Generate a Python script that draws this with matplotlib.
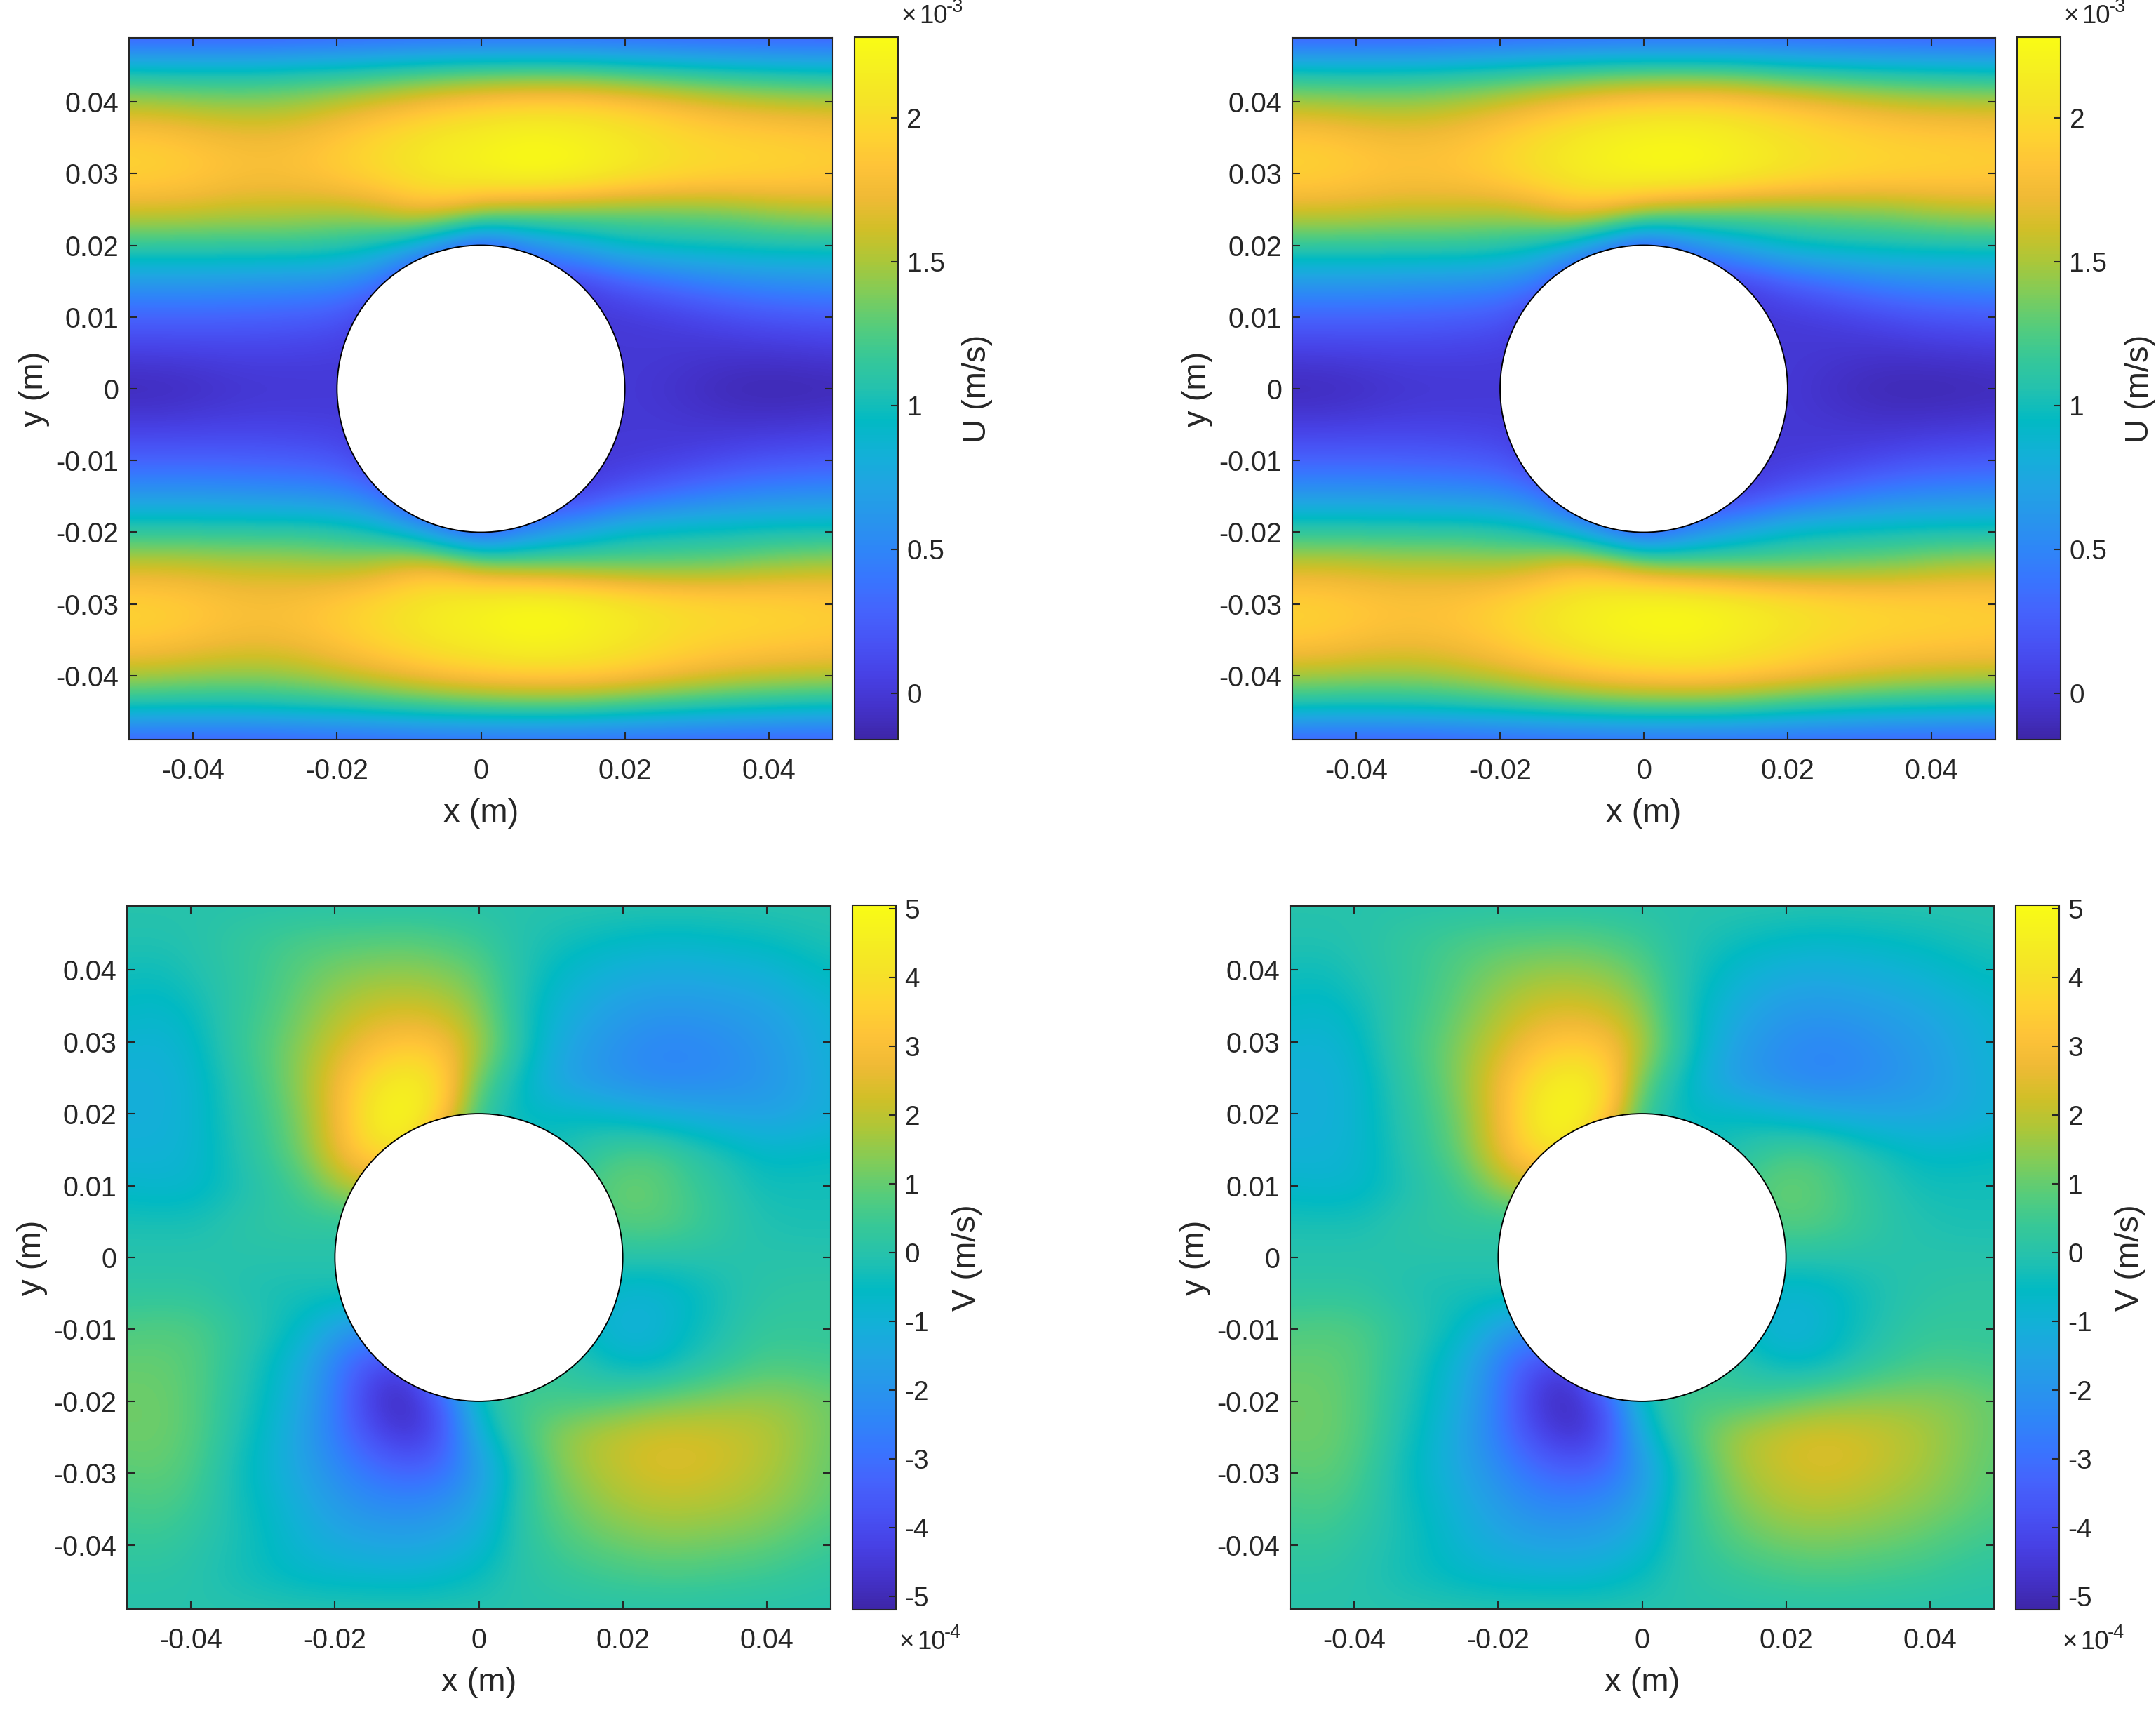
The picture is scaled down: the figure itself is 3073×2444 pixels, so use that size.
import numpy as np
import matplotlib
matplotlib.use("Agg")
import matplotlib.pyplot as plt
from matplotlib.colors import LinearSegmentedColormap
from matplotlib.patches import Circle

plt.rcParams["font.family"] = ["Liberation Sans", "DejaVu Sans"]
plt.rcParams["axes.unicode_minus"] = False

# values, rows go from y=0 up to y=0.049, columns x=-0.049 .. 0.049
# lower half is the mirror of the upper half (U even, V odd)
x_grid = [-.049, -.0441, -.0392, -.0343, -.0294, -.0245, -.0196, -.0147, -.0098, -.0049, 0,
          .0049, .0098, .0147, .0196, .0245, .0294, .0343, .0392, .0441, .049]
y_grid = [0, .0049, .0098, .0147, .0196, .0245, .0294, .0343, .0392, .0441, .049]

U_left = [
    [-.12, -.11, -.08, -.04, -.02, -.01, 0, 0, 0, 0, 0, 0, 0, 0, 0, -.03, -.07, -.12, -.14, -.14, -.13],
    [.03, .03, .04, .05, .05, .04, .03, 0, 0, 0, 0, 0, 0, 0, 0, 0, -.02, -.03, -.03, -.02, 0],
    [.26, .26, .26, .25, .24, .22, .18, 0, 0, 0, 0, 0, 0, 0, 0, .02, .06, .11, .16, .18, .2],
    [.62, .62, .62, .6, .58, .56, .52, .4, 0, 0, 0, 0, 0, .05, .2, .3, .4, .47, .52, .55, .57],
    [1.1, 1.1, 1.1, 1.1, 1.1, 1.1, 1.05, .95, .75, .35, .05, .35, .6, .75, .9, .95, .97, .98, 1, 1, 1],
    [1.6, 1.6, 1.58, 1.55, 1.55, 1.52, 1.5, 1.55, 1.7, 1.7, 1.5, 1.4, 1.35, 1.32, 1.3, 1.3, 1.32, 1.35, 1.42, 1.47, 1.5],
    [1.94, 1.92, 1.88, 1.82, 1.8, 1.83, 1.9, 1.98, 2.07, 2.15, 2.2, 2.26, 2.26, 2.2, 2.12, 2.05, 2.0, 1.97, 1.95, 1.93, 1.9],
    [1.92, 1.9, 1.84, 1.79, 1.78, 1.82, 1.9, 2.0, 2.08, 2.16, 2.2, 2.26, 2.26, 2.2, 2.13, 2.06, 2.0, 1.97, 1.95, 1.93, 1.9],
    [1.58, 1.56, 1.52, 1.5, 1.5, 1.55, 1.64, 1.73, 1.82, 1.9, 1.96, 2.0, 2.01, 2.0, 1.95, 1.88, 1.8, 1.73, 1.68, 1.65, 1.63],
    [1.05, 1.03, 1.03, 1.03, 1.05, 1.08, 1.1, 1.15, 1.2, 1.25, 1.28, 1.3, 1.3, 1.28, 1.22, 1.17, 1.12, 1.08, 1.05, 1.02, 1.0],
    [.2, .2, .2, .2, .2, .22, .23, .24, .25, .26, .26, .26, .26, .25, .24, .23, .22, .21, .2, .2, .2],
]

U_right = [
    [-.12, -.11, -.08, -.04, -.02, -.01, 0, 0, 0, 0, 0, 0, 0, 0, 0, -.05, -.1, -.13, -.14, -.13, -.12],
    [.03, .03, .04, .05, .05, .04, .03, 0, 0, 0, 0, 0, 0, 0, 0, -.01, -.03, -.04, -.03, -.02, 0],
    [.26, .26, .26, .25, .24, .22, .18, 0, 0, 0, 0, 0, 0, 0, 0, .02, .06, .11, .16, .18, .2],
    [.62, .62, .62, .6, .58, .56, .52, .4, 0, 0, 0, 0, 0, .05, .2, .3, .4, .48, .52, .55, .57],
    [1.1, 1.1, 1.1, 1.1, 1.1, 1.1, 1.05, .95, .75, .35, .05, .35, .6, .77, .9, .96, .98, .99, 1, 1, 1],
    [1.6, 1.6, 1.58, 1.55, 1.55, 1.53, 1.52, 1.6, 1.75, 1.7, 1.5, 1.38, 1.33, 1.3, 1.3, 1.32, 1.35, 1.38, 1.45, 1.5, 1.52],
    [1.94, 1.92, 1.88, 1.84, 1.84, 1.87, 1.95, 2.04, 2.13, 2.2, 2.25, 2.26, 2.22, 2.15, 2.08, 2.02, 1.98, 1.95, 1.93, 1.92, 1.9],
    [1.92, 1.9, 1.84, 1.8, 1.81, 1.86, 1.95, 2.05, 2.14, 2.21, 2.25, 2.26, 2.22, 2.15, 2.08, 2.02, 1.98, 1.95, 1.93, 1.92, 1.9],
    [1.58, 1.56, 1.53, 1.52, 1.54, 1.6, 1.68, 1.78, 1.87, 1.95, 1.99, 2.02, 2.01, 1.96, 1.9, 1.83, 1.76, 1.7, 1.66, 1.64, 1.63],
    [1.05, 1.03, 1.03, 1.04, 1.06, 1.09, 1.13, 1.18, 1.23, 1.27, 1.3, 1.3, 1.29, 1.25, 1.18, 1.13, 1.09, 1.06, 1.04, 1.02, 1.0],
    [.2, .2, .2, .2, .2, .22, .23, .24, .25, .26, .26, .26, .26, .25, .24, .23, .22, .21, .2, .2, .2],
]

V_left = [
    [0] * 21,
    [-.2, -.2, -.2, .05, .2, .25, .2, .1, 0, 0, 0, 0, 0, .5, .85, .9, .6, .2, -.1, -.2, -.2],
    [-.7, -.8, -.7, -.3, .1, .6, 1.6, 2.2, .5, 0, 0, 0, 0, .6, 1.1, 1.0, .5, .1, -.3, -.3, -.3],
    [-1.0, -1.0, -.8, -.2, .4, 1.2, 2.7, 3.9, 4.2, 1.0, 0, -.2, -.3, .1, .6, .7, .2, -.2, -.6, -.6, -.5],
    [-1.1, -1.1, -.8, -.1, .5, 1.4, 2.8, 4.6, 5.0, 3.5, .3, -.5, -.5, -.5, -.7, -1.0, -1.2, -1.4, -1.5, -1.4, -1.1],
    [-1.1, -1.1, -.8, 0, .7, 1.6, 2.8, 4.0, 4.7, 3.8, 1.0, -.3, -1.3, -1.8, -2.1, -2.3, -2.3, -2.2, -2.0, -1.6, -1.1],
    [-.9, -1.0, -.6, .2, .8, 1.5, 2.3, 3.0, 3.4, 3.1, 1.8, .3, -1.0, -1.7, -2.1, -2.4, -2.4, -2.2, -1.9, -1.5, -1.0],
    [-.6, -.7, -.4, .2, .6, 1.2, 1.8, 2.2, 2.3, 2.1, 1.4, .1, -.8, -1.3, -1.7, -1.9, -1.9, -1.8, -1.6, -1.3, -.9],
    [-.35, -.4, -.1, .15, .5, .95, 1.3, 1.5, 1.55, 1.4, 1.0, .1, -.5, -.9, -1.15, -1.3, -1.3, -1.2, -1.1, -.8, -.5],
    [-.1, -.1, 0, .25, .45, .65, .75, .8, .85, .7, .45, 0, -.2, -.4, -.55, -.65, -.65, -.55, -.45, -.3, -.15],
    [0] * 21,
]

V_right = [
    [0] * 21,
    [-.2, -.2, -.2, .05, .2, .25, .2, .1, 0, 0, 0, 0, 0, .5, .85, .8, .45, .1, -.1, -.2, -.2],
    [-.7, -.8, -.7, -.3, .1, .6, 1.6, 2.2, .6, 0, 0, 0, 0, .7, 1.1, .9, .4, 0, -.3, -.3, -.3],
    [-1.0, -1.0, -.8, -.2, .4, 1.2, 2.7, 3.9, 4.4, 1.2, 0, -.2, -.3, .1, .6, .6, .1, -.3, -.6, -.6, -.5],
    [-1.1, -1.1, -.8, -.1, .5, 1.4, 2.8, 4.6, 5.0, 3.7, .4, -.5, -.5, -.5, -.8, -1.1, -1.3, -1.4, -1.4, -1.3, -1.0],
    [-1.1, -1.1, -.8, 0, .7, 1.6, 2.8, 4.1, 4.8, 4.0, 1.1, -.3, -1.3, -1.9, -2.2, -2.4, -2.3, -2.1, -1.8, -1.4, -1.0],
    [-.9, -1.0, -.6, .2, .8, 1.5, 2.3, 3.1, 3.5, 3.2, 1.9, .3, -1.0, -1.8, -2.2, -2.4, -2.3, -2.0, -1.7, -1.3, -.9],
    [-.6, -.7, -.4, .2, .6, 1.2, 1.8, 2.3, 2.4, 2.2, 1.5, .1, -.8, -1.4, -1.8, -1.9, -1.8, -1.6, -1.4, -1.1, -.8],
    [-.35, -.4, -.1, .15, .5, .95, 1.35, 1.6, 1.65, 1.5, 1.0, .1, -.5, -.95, -1.2, -1.3, -1.2, -1.1, -.9, -.65, -.45],
    [-.1, -.1, 0, .25, .45, .65, .8, .85, .9, .75, .45, 0, -.2, -.4, -.55, -.65, -.6, -.5, -.4, -.25, -.15],
    [0] * 21,
]

xy_ticks = [-.04, -.02, 0, .02, .04]
x_labels = ["-0.04", "-0.02", "0", "0.02", "0.04"]
y_ticks = [-.04, -.03, -.02, -.01, 0, .01, .02, .03, .04]
y_labels = ["-0.04", "-0.03", "-0.02", "-0.01", "0", "0.01", "0.02", "0.03", "0.04"]
U_ticks = [0, .5, 1, 1.5, 2]
U_labels = ["0", "0.5", "1", "1.5", "2"]
V_ticks = [-5, -4, -3, -2, -1, 0, 1, 2, 3, 4, 5]
V_labels = ["-5", "-4", "-3", "-2", "-1", "0", "1", "2", "3", "4", "5"]
U_lim = (-.161, 2.28)
V_lim = (-5.19, 5.05)

parula_pts = [
    (.2422, .1504, .6603), (.2647, .1978, .7952), (.2783, .2559, .8991), (.2810, .3228, .9579),
    (.2699, .3892, .9906), (.2206, .4603, .9973), (.1786, .5289, .9682), (.1540, .5902, .9218),
    (.1248, .6459, .8883), (.0689, .6948, .8394), (.0066, .7290, .7660), (.1408, .7584, .6842),
    (.2161, .7843, .5923), (.3406, .8008, .4789), (.5044, .7993, .3480), (.6720, .7793, .2227),
    (.8203, .7498, .1535), (.9393, .7288, .2100), (.9970, .7659, .2199), (.9952, .8300, .1900),
    (.9610, .8890, .1540), (.9620, .9370, .1270), (.9769, .9839, .0805),
]
parula = LinearSegmentedColormap.from_list("parula", parula_pts, N=256)

W, H = 3073, 2444
DPI = 300
INK = "#262626"
fig = plt.figure(figsize=(W / DPI, H / DPI), dpi=DPI)


def make_axes(l, t, r, b):
    return fig.add_axes([l / W, 1 - b / H, (r - l) / W, (b - t) / H])


def put_text(px, py, s, size, **kw):
    fig.text(px / W, 1 - py / H, s, fontsize=size, color=INK, **kw)


def panel(box, cbox, half, lim, cticks, clabels, name, mirror_sign, exponent, exp_y):
    half = np.array(half, dtype=float)
    grid = np.vstack([mirror_sign * half[:0:-1], half])
    ax = make_axes(*box)
    dx = x_grid[1] - x_grid[0]
    im = ax.imshow(grid, origin="lower", cmap=parula, vmin=lim[0], vmax=lim[1], interpolation="bicubic",
                   extent=[x_grid[0] - dx / 2, x_grid[-1] + dx / 2, -y_grid[-1] - dx / 2, y_grid[-1] + dx / 2])
    ax.set_aspect("auto")
    ax.add_patch(Circle((0, 0), .02, facecolor="white", edgecolor="black", linewidth=.45, zorder=3))
    ax.set_xlim(-.0489, .0489)
    ax.set_ylim(-.0489, .0489)
    ax.set_xticks(xy_ticks, x_labels)
    ax.set_yticks(y_ticks, y_labels)
    ax.tick_params(direction="in", top=True, right=True, length=2.6, width=.5, color=INK,
                   labelcolor=INK, labelsize=9.5)
    ax.tick_params(axis="x", pad=6.2)
    ax.tick_params(axis="y", pad=3.5)
    for s in ax.spines.values():
        s.set_linewidth(.5)
        s.set_color(INK)
    put_text((box[0] + box[2]) / 2, box[3] + 105, "x (m)", 11.3, ha="center", va="center")
    put_text(box[0] - 135, (box[1] + box[3]) / 2, "y (m)", 11.3, ha="center", va="center", rotation=90)

    cax = make_axes(*cbox)
    cb = fig.colorbar(im, cax=cax)
    cb.set_ticks(cticks, labels=clabels)
    cax.tick_params(direction="in", right=True, length=2.4, width=.5, color=INK, labelcolor=INK,
                    labelsize=9.3, pad=3)
    cb.outline.set_linewidth(.5)
    cb.outline.set_edgecolor(INK)
    put_text(cbox[2] + 113 if name == "U" else cbox[2] + 101, (cbox[1] + cbox[3]) / 2, name + " (m/s)", 11.3,
             ha="center", va="center", rotation=90)
    # the x10^n block, same pieces as the matlab label
    put_text(cbox[0] + 66, exp_y, "\u00d7", 8.8, ha="left", va="baseline")
    put_text(cbox[0] + 92, exp_y, "10", 8.8, ha="left", va="baseline")
    put_text(cbox[0] + 131, exp_y - 16, exponent, 6.5, ha="left", va="baseline")


panel((184, 54, 1187, 1054), (1218, 53, 1280, 1054), U_left, U_lim, U_ticks, U_labels, "U", 1, "-3", 33)
panel((1842, 54, 2844, 1054), (2875, 53, 2937, 1054), U_right, U_lim, U_ticks, U_labels, "U", 1, "-3", 33)
panel((181, 1291, 1184, 2293), (1215, 1290, 1277, 2294), V_left, V_lim, V_ticks, V_labels, "V", -1, "-4", 2350)
panel((1839, 1291, 2842, 2293), (2873, 1290, 2935, 2294), V_right, V_lim, V_ticks, V_labels, "V", -1, "-4", 2350)

fig.savefig("out.png", dpi=DPI)
